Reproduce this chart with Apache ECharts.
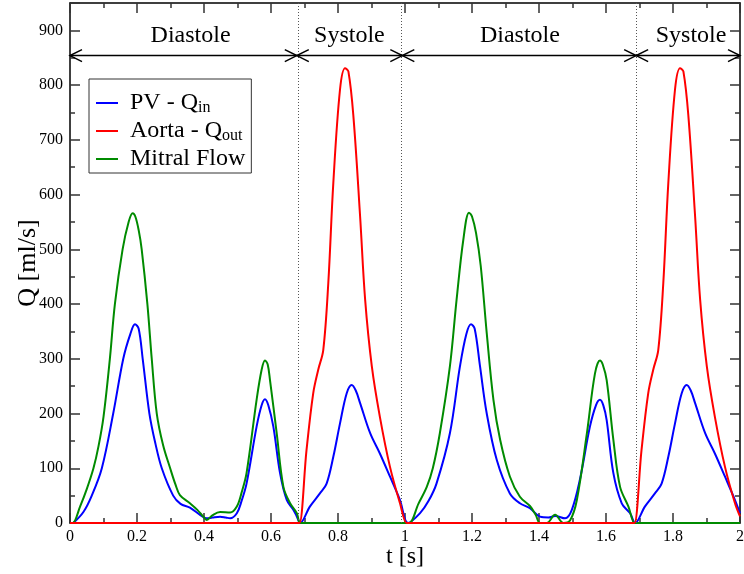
<!DOCTYPE html>
<html><head><meta charset="utf-8">
<script src="https://cdn.jsdelivr.net/npm/echarts@6/dist/echarts.min.js"></script>
<style>html,body{margin:0;padding:0;background:#fff}#c{width:744px;height:574px}</style>
</head><body><div id="c"></div>
<script>
// [t (s), Q (ml/s)]
const pvFlow = [
  [0.01,0],[0.04,20],[0.065,50],[0.095,100],[0.129,200],[0.159,300],[0.18,345],[0.194,363],[0.205,355],
  [0.217,300],[0.237,200],[0.255,145],[0.274,100],[0.308,50],[0.33,35],[0.358,28],[0.39,14],[0.408,8.5],
  [0.425,10],[0.448,11.6],[0.465,10],[0.478,8.5],[0.498,17.7],[0.512,40],[0.527,72],[0.557,176],[0.572,215],
  [0.582,226],[0.592,215],[0.607,176],[0.627,91],[0.647,42],[0.667,24],[0.677,12],[0.687,0],
  [0.716,30],[0.746,54],[0.766,72],[0.786,121],[0.806,182],[0.826,237],[0.841,252],[0.853,242],[0.866,219],
  [0.896,164],[0.925,127],[0.955,85],[0.985,42],[1.009,0],
  [1.045,18],[1.07,40],[1.094,72],[1.134,164],[1.164,286],[1.183,345],[1.197,363],[1.208,355],[1.224,286],
  [1.244,200],[1.274,115],[1.313,54],[1.343,36],[1.373,27],[1.403,11.6],[1.428,10],[1.448,13],[1.478,8.5],
  [1.498,24],[1.522,79],[1.552,176],[1.57,215],[1.582,225],[1.592,215],[1.602,188],[1.622,91],[1.647,36],
  [1.672,17.7],[1.687,0],
  [1.716,30],[1.746,54],[1.766,72],[1.786,121],[1.806,182],[1.826,237],[1.841,252],[1.853,242],[1.866,219],
  [1.896,164],[1.925,127],[1.955,85],[1.985,42],[2.0,18]
];
const aortaFlow = [
  [0,0],[0.68,0],[0.685,0],[0.706,133],[0.726,237],[0.741,280],[0.756,316],[0.771,438],[0.786,621],[0.806,792],
  [0.821,831],[0.831,825],[0.846,743],[0.866,560],[0.881,408],[0.901,286],[0.925,194],[0.955,103],[0.985,36],
  [1.005,0],[1.01,0],[1.68,0],[1.685,0],[1.706,133],[1.726,237],[1.741,280],[1.756,316],[1.771,438],[1.786,621],
  [1.806,792],[1.821,831],[1.831,825],[1.846,743],[1.866,560],[1.881,408],[1.901,286],[1.925,194],[1.955,103],
  [1.985,36],[2.0,12]
];
const mitralFlow = [
  [0,0],[0.008,0],[0.03,30],[0.05,62],[0.07,100],[0.085,140],[0.1,194],[0.119,300],[0.134,400],[0.157,500],
  [0.175,550],[0.187,566],[0.195,560],[0.205,535],[0.214,500],[0.231,400],[0.244,300],[0.259,200],[0.278,142],[0.299,100],
  [0.315,70],[0.328,51],[0.358,36],[0.38,24],[0.398,11.6],[0.408,5.5],[0.425,14],[0.448,20],[0.478,19],
  [0.498,30],[0.512,55],[0.527,91],[0.557,225],[0.572,280],[0.582,297],[0.59,290],[0.597,261],[0.617,164],
  [0.637,66],[0.657,36],[0.677,18],[0.684,2],[0.69,0],[0.695,0],
  [1.005,0],[1.013,0],[1.04,35],[1.065,66],[1.083,100],[1.104,164],[1.134,286],[1.154,408],[1.174,517],
  [1.191,567],[1.2,560],[1.212,530],[1.226,470],[1.244,347],[1.264,225],[1.284,152],[1.313,85],[1.343,48],[1.373,31],
  [1.39,15],[1.403,0],[1.423,0],[1.448,15],[1.473,0],[1.493,5],[1.513,42],[1.543,164],[1.567,273],[1.582,297],
  [1.59,290],[1.602,261],[1.622,152],[1.642,66],[1.667,30],[1.685,0],[1.69,0],[2.0,0]
];
const xTickLabels = ['0','0.2','0.4','0.6','0.8','1','1.2','1.4','1.6','1.8','2'];
const yTickLabels = ['0','100','200','300','400','500','600','700','800','900'];
const phaseBounds = [0, 0.677, 0.992, 1.69, 2];
const phaseNames = ['Diastole','Systole','Diastole','Systole'];
const phaseLabelT = [0.36, 0.834, 1.343, 1.854];
const dividers = [0.677, 0.992, 1.69];
const ARROW_Q = 854;

const FONT = '"Liberation Serif","DejaVu Serif",serif';
const chart = echarts.init(document.getElementById('c'), null, {renderer:'canvas'});

function tickFmt(labels, step){
  return function(v){
    const k = v/step, r = Math.round(k);
    return Math.abs(k-r) < 1e-6 && labels[r] !== undefined ? labels[r] : '';
  };
}
const lineCol = '#000';
function axisCommon(extra){
  return Object.assign({
    type:'value',
    axisLine:{show:true,onZero:false,lineStyle:{color:lineCol,width:1.5}},
    axisTick:{show:true,inside:true,length:10,lineStyle:{color:'#333',width:1.5}},
    minorTick:{show:true,splitNumber:2,length:5,lineStyle:{color:'#333',width:1.5}},
    splitLine:{show:false},minorSplitLine:{show:false}
  }, extra);
}

const legendNames = {
  'PV - Qin':'{m|PV - Q}{s|in}',
  'Aorta - Qout':'{m|Aorta - Q}{s|out}',
  'Mitral Flow':'{m|Mitral Flow}'
};
const SMOOTH = 0.35;

const option = {
  animation:false,
  backgroundColor:'#fff',
  grid:{left:70,right:4,top:3,bottom:51,containLabel:false,outerBoundsMode:'none'},
  xAxis:[
    axisCommon({min:0,max:2,interval:0.2,position:'bottom',
      axisLabel:{formatter:tickFmt(xTickLabels,0.2),fontFamily:FONT,fontSize:16,color:'#000',margin:6},
      name:'t [s]',nameLocation:'middle',nameGap:22,nameMoveOverlap:false,
      nameTextStyle:{fontFamily:FONT,fontSize:24,color:'#000'}}),
    axisCommon({min:0,max:2,interval:0.2,position:'top',axisLabel:{show:false}})
  ],
  yAxis:[
    axisCommon({min:0,max:950,interval:100,position:'left',
      axisLabel:{formatter:tickFmt(yTickLabels,100),fontFamily:FONT,fontSize:16,color:'#000',margin:7},
      name:'Q [ml/s]',nameLocation:'middle',nameGap:29,nameRotate:90,nameMoveOverlap:false,
      nameTextStyle:{fontFamily:FONT,fontSize:26,color:'#000'}}),
    axisCommon({min:0,max:950,interval:100,position:'right',axisLabel:{show:false}})
  ],
  legend:{
    orient:'vertical',left:89,top:79,
    data:[
      {name:'PV - Qin',icon:'rect'},
      {name:'Aorta - Qout',icon:'rect'},
      {name:'Mitral Flow',icon:'rect'}
    ],
    itemWidth:22,itemHeight:2,itemGap:3.5,
    padding:[12,6,2,7],
    borderColor:'#333',borderWidth:1,backgroundColor:'#fff',
    selectedMode:false,
    formatter:function(n){return legendNames[n];},
    textStyle:{fontFamily:FONT,fontSize:24,color:'#000',
      rich:{
        m:{fontFamily:FONT,fontSize:24,lineHeight:25,color:'#000',padding:[0,0,0,7]},
        s:{fontFamily:FONT,fontSize:16,lineHeight:13,color:'#000',verticalAlign:'bottom'}
      }}
  },
  series:[
    {name:'PV - Qin',type:'line',data:pvFlow,showSymbol:false,symbol:'none',smooth:SMOOTH,
      lineStyle:{color:'#0000ff',width:2},itemStyle:{color:'#0000ff'},z:3},
    {name:'Mitral Flow',type:'line',data:mitralFlow,showSymbol:false,symbol:'none',smooth:SMOOTH,
      lineStyle:{color:'#008b00',width:2},itemStyle:{color:'#008b00'},z:4},
    {name:'Aorta - Qout',type:'line',data:aortaFlow,showSymbol:false,symbol:'none',smooth:SMOOTH,
      lineStyle:{color:'#ff0000',width:2},itemStyle:{color:'#ff0000'},z:5,
      markLine:{silent:true,symbol:['none','none'],label:{show:false},
        lineStyle:{type:[1,2],color:'#555',width:1},
        emphasis:{disabled:true},
        data:dividers.map(t=>({xAxis:t}))}},
    {name:'phases',type:'custom',silent:true,z:6,clip:false,
      data:phaseNames.map((n,i)=>[phaseBounds[i],phaseBounds[i+1],phaseLabelT[i]]),
      encode:{x:[0,1,2]},
      renderItem:function(params,api){
        const a=api.coord([api.value(0),ARROW_Q]);
        const b=api.coord([api.value(1),ARROW_Q]);
        const c=api.coord([api.value(2),ARROW_Q]);
        const y=a[1];
        const st={stroke:'#000',lineWidth:1.5,fill:null};
        return {type:'group',children:[
          {type:'line',shape:{x1:a[0],y1:y,x2:b[0],y2:y},style:st},
          {type:'polyline',shape:{points:[[a[0]+12,y-6],[a[0],y],[a[0]+12,y+6]]},style:st},
          {type:'polyline',shape:{points:[[b[0]-12,y-6],[b[0],y],[b[0]-12,y+6]]},style:st},
          {type:'text',x:c[0],y:y-20,style:{text:phaseNames[params.dataIndex],fontFamily:FONT,fontSize:24,
            fill:'#000',align:'center',verticalAlign:'middle'}}
        ]};
      }}
  ]
};
chart.setOption(option);
</script></body></html>
